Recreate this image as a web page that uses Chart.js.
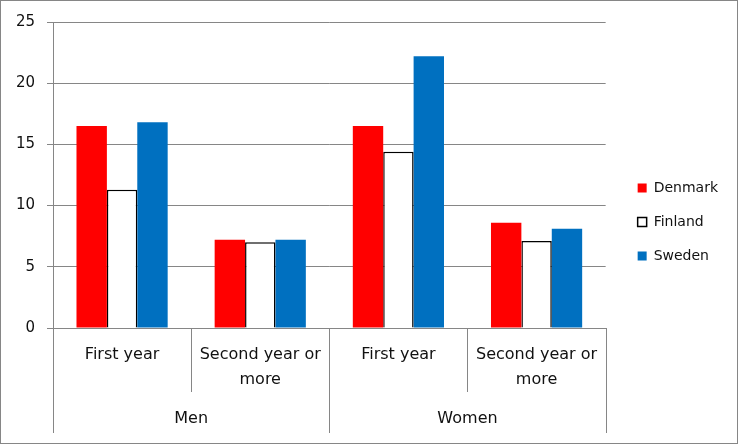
<!DOCTYPE html>
<html>
<head>
<meta charset="utf-8">
<title>Denmark, Finland, Sweden – first year vs second year or more</title>
<script src="https://cdn.jsdelivr.net/npm/chart.js@4.4.1/dist/chart.umd.min.js"></script>
<style>
  body { margin: 0; background: #fff; }
  .frame { width: 736px; height: 442px; border: 1px solid #868686; }
  canvas { display: block; }
</style>
</head>
<body>
<div class="frame"><canvas id="chart" width="736" height="442"></canvas></div>
<script>
// data
const categories = [["First year"], ["Second year or", "more"], ["First year"], ["Second year or", "more"]];
const groups = ["Men", "Women"];
const denmark = [16.5, 7.2, 16.5, 8.6];
const finland = [11.3, 7.0, 14.4, 7.1];
const sweden = [16.8, 7.2, 22.2, 8.1];
const yMax = 25;
const yStep = 5;

const FONT = "'DejaVu Sans', sans-serif";
const GRID = "#868686";
const TEXT = "#111";

// second row of the x axis: separators and Men / Women
const groupAxisPlugin = {
  id: "groupAxis",
  afterDraw(chart) {
    const x = chart.scales.x;
    const ctx = chart.ctx;
    const step = (x.right - x.left) / categories.length;
    const perGroup = categories.length / groups.length;
    ctx.save();
    ctx.strokeStyle = GRID;
    ctx.lineWidth = 1;
    for (let i = 0; i <= categories.length; i++) {
      const px = Math.round(x.left + i * step) + 0.5;
      const bottom = i % perGroup === 0 ? x.top + 105 : x.top + 64;
      ctx.beginPath();
      ctx.moveTo(px, x.top);
      ctx.lineTo(px, bottom);
      ctx.stroke();
    }
    ctx.font = `16px ${FONT}`;
    ctx.fillStyle = TEXT;
    ctx.textAlign = "center";
    ctx.textBaseline = "middle";
    groups.forEach((g, j) => {
      const cx = x.left + (j * perGroup + perGroup / 2) * step;
      ctx.fillText(g, cx, x.top + 91);
    });
    ctx.restore();
  },
};

new Chart(document.getElementById("chart"), {
  type: "bar",
  data: {
    labels: categories,
    datasets: [
      { label: "Denmark", data: denmark, backgroundColor: "#FF0000", borderWidth: 0 },
      { label: "Finland", data: finland, backgroundColor: "#FFFFFF", borderColor: "#000000", borderWidth: 1.5 },
      { label: "Sweden", data: sweden, backgroundColor: "#0070C0", borderWidth: 0 },
    ],
  },
  options: {
    responsive: false,
    animation: false,
    devicePixelRatio: 1,
    layout: { padding: { top: 21, bottom: 21, left: 0, right: 9 } },
    datasets: { bar: { categoryPercentage: 0.66, barPercentage: 1 } },
    scales: {
      x: {
        grid: { display: false, drawTicks: false },
        border: { display: true, color: GRID, width: 1 },
        ticks: { color: TEXT, padding: 14, maxRotation: 0, autoSkip: false, font: { family: FONT, size: 16, lineHeight: 1.5625 } },
        afterFit(scale) { scale.height = 94; },
      },
      y: {
        min: 0,
        max: yMax,
        ticks: { stepSize: yStep, color: TEXT, padding: 12, font: { family: FONT, size: 15 } },
        grid: { color: GRID, lineWidth: 1, tickLength: 6, tickColor: GRID },
        border: { display: true, color: GRID, width: 1 },
        afterFit(scale) { scale.width = 52; },
      },
      gap: {
        type: "linear",
        position: "right",
        grid: { display: false, drawTicks: false },
        border: { display: false },
        ticks: { display: false },
        afterFit(scale) { scale.width = 12; },
      },
    },
    plugins: {
      legend: {
        position: "right",
        maxWidth: 119,
        labels: { boxWidth: 9, boxHeight: 9, padding: 20, color: TEXT, font: { family: FONT, size: 14 } },
      },
      tooltip: { enabled: false },
    },
  },
  plugins: [groupAxisPlugin],
});
</script>
</body>
</html>
